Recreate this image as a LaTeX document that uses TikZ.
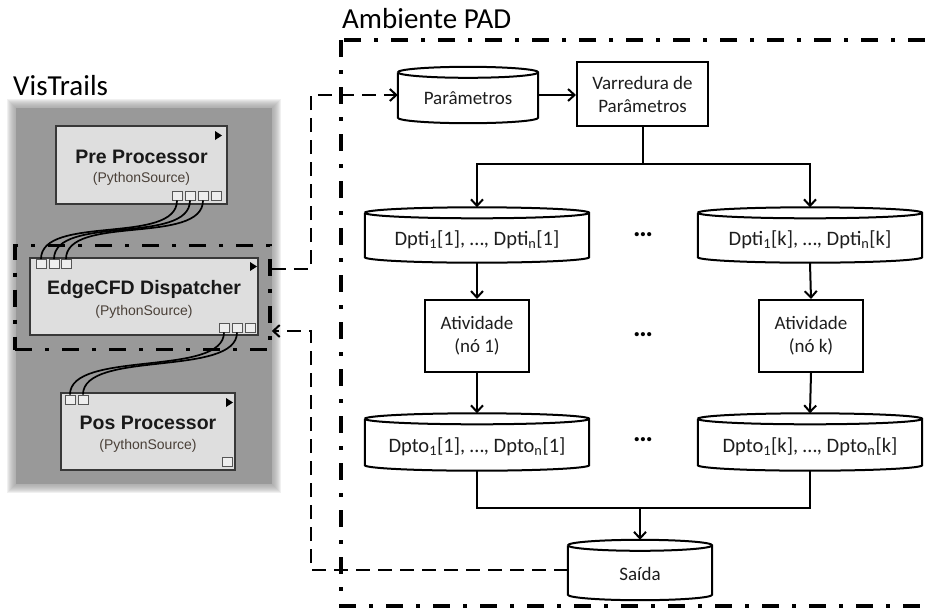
\documentclass[tikz,border=0pt]{standalone}
\usepackage{fontspec}
\setmainfont{Carlito}
\newfontfamily\arialfont{Liberation Sans}
\usetikzlibrary{arrows.meta,calc}

\definecolor{panelgray}{HTML}{999999}
\definecolor{modfill}{HTML}{DEDEDE}
\definecolor{modline}{HTML}{383838}
\definecolor{subtxt}{HTML}{4A4038}
\definecolor{labeltxt}{HTML}{1E1E1E}

\tikzset{
  barb/.style={-{Straight Barb[length=6.5pt,width=12pt,line width=2pt]}},
  flow/.style={line width=2pt, barb},
  plain/.style={line width=2pt},
  procbox/.style={draw, line width=2pt, align=center, text=labeltxt,
    font=\fontsize{19}{23}\selectfont, inner sep=0pt},
  dbshape/.style={inner sep=0pt},
  dblabel/.style={inner sep=0pt, text=labeltxt},
  smalltxt/.style={font=\fontsize{19}{23}\selectfont},
  bigtxt/.style={font=\fontsize{20.5}{24}\selectfont},
  frameline/.style={line width=3.5pt, dash pattern=on 17pt off 13pt on 4pt off 13pt},
  linkline/.style={line width=2.5pt, dash pattern=on 14pt off 8pt},
  module/.style={draw=modline, fill=modfill, line width=1.5pt, inner sep=0pt},
  modtitle/.style={font=\arialfont\bfseries\fontsize{19.5}{22}\selectfont, text=black!90},
  modsub/.style={font=\arialfont\fontsize{14}{16}\selectfont, text=subtxt},
  port/.style={draw=modline!85, fill=modfill!50!white, line width=0.9pt,
    minimum width=10pt, minimum height=9pt, inner sep=0pt},
  wire/.style={line width=1.7pt},
  title/.style={font=\fontsize{29}{32}\selectfont, anchor=base west, inner sep=0pt},
  dots/.style={font=\bfseries\fontsize{28}{30}\selectfont},
}

% database symbol drawn around a named node: side walls, bottom arc, top ellipse
\newcommand\drawdb[2][5.5pt]{%
  \draw[line width=2pt] let \p1=(#2.north west), \p2=(#2.south east),
      \n1={(\x2-\x1)/2} in
    (\x1,\y1-#1) -- (\x1,\y2+#1)
      arc[start angle=180,end angle=360,x radius=\n1,y radius=#1]
      -- (\x2,\y1-#1)
      arc[start angle=0,end angle=180,x radius=\n1,y radius=#1]
    (\x1,\y1-#1) arc[start angle=180,end angle=360,x radius=\n1,y radius=#1];}

\begin{document}
\begin{tikzpicture}[x=1pt,y=-1pt]
\clip (0,0) rectangle (930,614);
\fill[white] (0,0) rectangle (930,614);

% ---------------- VisTrails side ----------------
\node[title] (vt) at (13,95) {VisTrails};

% soft grey panel
\foreach \i in {9,8,...,1}
  \fill[panelgray, opacity=0.14] (16-\i,108-\i) rectangle (272+\i,484+\i);
\fill[panelgray] (16,108) rectangle (272,484);

% modules
\node[module, minimum width=171pt, minimum height=78pt] (pre) at (141.5,165) {};
\node[modtitle] (preT) at (141.5,157) {Pre Processor};
\node[modsub] (preS) at (141.5,178.5) {(PythonSource)};

\node[module, minimum width=228pt, minimum height=77pt] (disp) at (144,296.5) {};
\node[modtitle] (dispT) at (144,289) {EdgeCFD Dispatcher};
\node[modsub] (dispS) at (144,311.5) {(PythonSource)};

\node[module, minimum width=174pt, minimum height=77pt] (pos) at (148,431.5) {};
\node[modtitle] (posT) at (148,423) {Pos Processor};
\node[modsub] (posS) at (148,445.5) {(PythonSource)};

% run triangles
\fill (215,131) -- (222,135.5) -- (215,140) -- cycle;
\fill (250,262) -- (257,266.5) -- (250,271) -- cycle;
\fill (226,398) -- (233,402.5) -- (226,407) -- cycle;

% ports
\foreach \n/\x in {1/177,2/190,3/203,4/216}
  \node[port] (pp\n) at (\x,195.5) {};
\foreach \n/\x in {1/41,2/54,3/66}
  \node[port] (di\n) at (\x,264) {};
\foreach \n/\x in {1/224,2/237,3/250}
  \node[port] (do\n) at (\x,327.5) {};
\foreach \n/\x in {1/70,2/83}
  \node[port] (pi\n) at (\x,399.5) {};
\node[port] (po1) at (227,461.5) {};

% wires between ports
\foreach \n in {1,2,3}
  \draw[wire] (pp\n.south) .. controls +(0,45) and +(0,-45) .. (di\n.north);
\foreach \n in {1,2}
  \draw[wire] (do\n.south) .. controls +(0,45) and +(0,-45) .. (pi\n.north);

% frame around the dispatcher
\node[frameline, draw, minimum width=255pt, minimum height=104pt, inner sep=0pt]
  (dfr) at (142.5,297.5) {};

% ---------------- PAD environment ----------------
\node[title] (pad) at (342,28) {Ambiente PAD};
\draw[frameline] (341,40) rectangle (960,606);

\node[dbshape, minimum width=140pt, minimum height=56pt] (par) at (468,95) {};
\drawdb{par}
\node[dblabel, smalltxt] (parT) at ([yshift=-3pt]par.center) {Parâmetros};
\node[procbox, minimum width=131pt, minimum height=64pt] (var) at (642.5,94) {Varredura de\\Parâmetros};

\node[dbshape, minimum width=224pt, minimum height=55pt] (dti1) at (477,235) {};
\drawdb{dti1}
\node[dblabel, bigtxt] (dti1T) at ([yshift=-5pt]dti1.center)
  {Dpti\textsubscript{1}[1], …, Dpti\textsubscript{n}[1]};
\node[dbshape, minimum width=224pt, minimum height=55pt] (dtik) at (810,235) {};
\drawdb{dtik}
\node[dblabel, bigtxt] (dtikT) at ([yshift=-5pt]dtik.center)
  {Dpti\textsubscript{1}[k], …, Dpti\textsubscript{n}[k]};

\node[procbox, minimum width=104pt, minimum height=72pt] (at1) at (477,336) {Atividade\\(nó 1)};
\node[procbox, minimum width=104pt, minimum height=72pt] (atk) at (811,336) {Atividade\\(nó k)};

\node[dbshape, minimum width=224pt, minimum height=57pt] (dto1) at (477,442) {};
\drawdb{dto1}
\node[dblabel, bigtxt] (dto1T) at ([yshift=-5pt]dto1.center)
  {Dpto\textsubscript{1}[1], …, Dpto\textsubscript{n}[1]};
\node[dbshape, minimum width=224pt, minimum height=57pt] (dtok) at (810,442) {};
\drawdb{dtok}
\node[dblabel, bigtxt] (dtokT) at ([yshift=-5pt]dtok.center)
  {Dpto\textsubscript{1}[k], …, Dpto\textsubscript{n}[k]};

\node[dbshape, minimum width=144pt, minimum height=60pt] (sai) at (640,570) {};
\drawdb{sai}
\node[dblabel, smalltxt] (saiT) at ([yshift=-4pt]sai.center) {Saída};

\node[dots] (d1) at (643,235) {…};
\node[dots] (d2) at (643,335) {…};
\node[dots] (d3) at (643,440) {…};

% flow connectors
\draw[flow] (par.east) -- (par.east -| var.west);
\coordinate (split) at ($(var.south)+(0,37)$);
\draw[plain] (var.south) -- (split);
\draw[flow] (split) -| (dti1.north);
\draw[flow] (split) -| (dtik.north);
\draw[flow] (dti1.south) -- (at1.north);
\draw[flow] (dtik.south) -- (atk.north);
\draw[flow] (at1.south) -- (dto1.north);
\draw[flow] (atk.south) -- (dtok.north);
\coordinate (merge) at ($(sai.north)+(0,-32)$);
\draw[plain] (dto1.south) |- (merge) -| (dtok.south);
\draw[flow] (merge) -- (sai.north);

% links between VisTrails and the PAD environment
\draw[linkline, barb] ([yshift=28.5pt]dfr.east) -- ++(39,0) |- (par.west);
\draw[linkline, barb] (sai.west) -| ([xshift=39pt,yshift=-33.5pt]dfr.east)
  -- ([yshift=-33.5pt]dfr.east);
\end{tikzpicture}
\end{document}
